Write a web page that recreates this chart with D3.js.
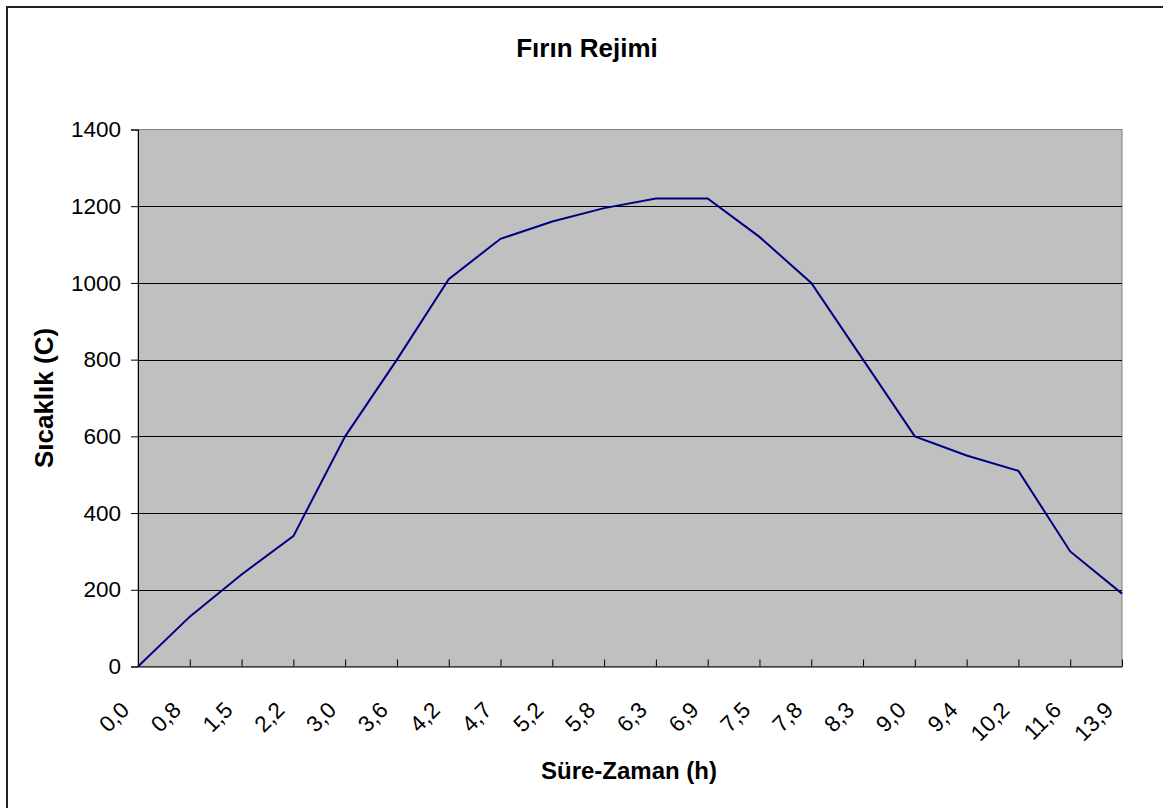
<!DOCTYPE html>
<html><head><meta charset="utf-8">
<script src="https://cdn.jsdelivr.net/npm/d3@7"></script>
<style>body{margin:0;background:#fff;} svg{display:block;font-family:"Liberation Sans",Arial,sans-serif;}</style>
</head><body>
<script>
const categories = ["0,0","0,8","1,5","2,2","3,0","3,6","4,2","4,7","5,2","5,8","6,3","6,9","7,5","7,8","8,3","9,0","9,4","10,2","11,6","13,9"];
const temperatures = [0,130,240,340,600,800,1010,1115,1160,1195,1220,1220,1120,1000,800,600,550,510,300,190];
const yTicks = [0,200,400,600,800,1000,1200,1400];
const titleText = "Fırın Rejimi";
const xTitle = "Süre-Zaman (h)";
const yTitle = "Sıcaklık (C)";

const W = 1163, H = 808;
const m = {left:138, right:1122, top:129.5, bottom:666.5};
const svg = d3.select("body").append("svg").attr("width",W).attr("height",H);

svg.append("rect").attr("x",7).attr("y",7).attr("width",W+10).attr("height",H+10)
  .attr("fill","#fff").attr("stroke","#222").attr("stroke-width",2);

const x = d3.scalePoint().domain(categories).range([m.left,m.right]);
const y = d3.scaleLinear().domain([0,1400]).range([m.bottom,m.top]);

svg.append("rect").attr("x",m.left).attr("y",m.top).attr("width",m.right-m.left).attr("height",m.bottom-m.top)
  .attr("fill","#c0c0c0").attr("stroke","#808080").attr("stroke-width",1);

// gridlines
svg.append("g").selectAll("line").data(yTicks.filter(d=>d>0 && d<1400)).join("line")
  .attr("x1",m.left).attr("x2",m.right).attr("y1",d=>Math.round(y(d))+0.5).attr("y2",d=>Math.round(y(d))+0.5)
  .attr("stroke","#000").attr("stroke-width",1);

// y axis
const yAxis = svg.append("g").attr("transform",`translate(${m.left},0)`)
  .call(d3.axisLeft(y).tickValues(yTicks).tickSize(7).tickPadding(10).tickFormat(d3.format("d")));
yAxis.select(".domain").attr("stroke","#000");
yAxis.selectAll(".tick line").attr("stroke","#000");
yAxis.selectAll("text").attr("font-size",22.5).attr("fill","#000").attr("font-family","Liberation Sans, Arial, sans-serif");

// x axis
const xAxis = svg.append("g").attr("transform",`translate(0,${m.bottom})`)
  .call(d3.axisBottom(x).tickSize(-7).tickPadding(0).tickSizeOuter(0));
xAxis.select(".domain").attr("stroke","#000");
xAxis.selectAll(".tick line").attr("stroke","#000");
xAxis.selectAll("text").attr("font-size",22.5).attr("fill","#000")
  .attr("font-family","Liberation Sans, Arial, sans-serif")
  .attr("text-anchor","end").attr("dy",null).attr("y",0)
  .attr("transform","translate(-8,45) rotate(-45)");

// line
svg.append("path").datum(temperatures.map((v,i)=>[categories[i],v]))
  .attr("fill","none").attr("stroke","#000080").attr("stroke-width",2)
  .attr("d",d3.line().x(d=>x(d[0])).y(d=>y(d[1])));

// titles
svg.append("text").attr("x",587).attr("y",57).attr("text-anchor","middle")
  .attr("font-size",26).attr("font-weight","bold").text(titleText);
svg.append("text").attr("x",629).attr("y",779).attr("text-anchor","middle")
  .attr("font-size",24).attr("font-weight","bold").text(xTitle);
svg.append("text").attr("transform",`translate(53,${(m.top+m.bottom)/2}) rotate(-90)`).attr("text-anchor","middle")
  .attr("font-size",26).attr("font-weight","bold").text(yTitle);
</script>
</body></html>
